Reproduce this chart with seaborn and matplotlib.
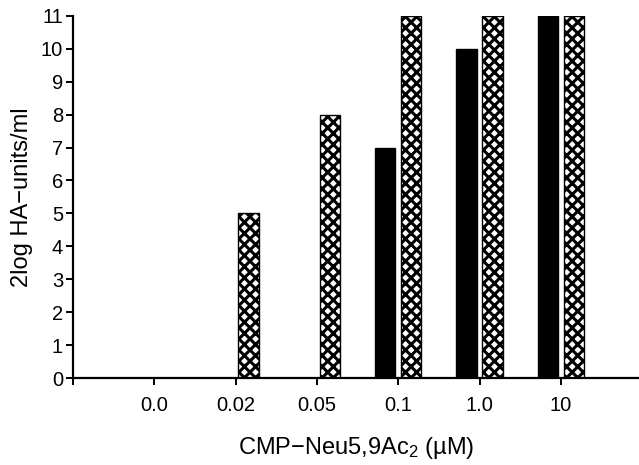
import matplotlib
matplotlib.use("Agg")
import matplotlib.pyplot as plt
import seaborn as sns
import pandas as pd

concentrations = ["0.0", "0.02", "0.05", "0.1", "1.0", "10"]
solid_series = [0, 0, 0, 7, 10, 11]
hatched_series = [0, 5, 8, 11, 11, 11]
y_ticks = list(range(0, 12))

sns.set_style("ticks")
plt.rcParams['font.family'] = ['Liberation Sans', 'DejaVu Sans']
plt.rcParams['mathtext.fontset'] = 'custom'
plt.rcParams['mathtext.rm'] = 'Liberation Sans'
plt.rcParams['mathtext.default'] = 'regular'
plt.rcParams['hatch.linewidth'] = 2.2
plt.rcParams['text.color'] = 'black'
plt.rcParams['axes.labelcolor'] = 'black'

df = pd.DataFrame({
    "conc": concentrations * 2,
    "value": solid_series + hatched_series,
    "series": ["solid"] * len(concentrations) + ["hatched"] * len(concentrations),
})

fig = plt.figure(figsize=(6.39, 4.65), dpi=100)
ax = fig.add_axes([0.114, 0.187, 0.886, 0.779])

sns.barplot(data=df, x="conc", y="value", hue="series", order=concentrations,
            hue_order=["solid", "hatched"], palette={"solid": "black", "hatched": "white"},
            width=0.64, gap=0.22, dodge=True, legend=False, ax=ax, edgecolor="black",
            linewidth=1.0)

n = len(concentrations)
for i, p in enumerate(ax.patches):
    if i >= n:
        p.set_hatch("xxx")
        p.set_facecolor("white")
        p.set_edgecolor("black")

ax.set_xlim(-1, 5.96)
ax.set_ylim(0, 11)
ax.set_xticks(range(-1, n))
ax.set_xticklabels([""] + concentrations, fontsize=14.5)
ax.set_yticks(y_ticks)
ax.set_yticklabels([str(t) for t in y_ticks], fontsize=14.5)
ax.tick_params(axis="both", direction="out", length=5, width=1.4, colors="black")
ax.tick_params(axis="x", pad=8)
ax.tick_params(axis="y", pad=2)
for s in ["top", "right"]:
    ax.spines[s].set_visible(False)
for s in ["left", "bottom"]:
    ax.spines[s].set_linewidth(1.6)
    ax.spines[s].set_color("black")

ax.set_xlabel("CMP\u2212Neu5,9Ac$_2$ (\u00b5M)", fontsize=17, labelpad=14, color="black")
ax.set_ylabel("2log HA\u2212units/ml", fontsize=17, labelpad=6, color="black")

fig.savefig("out.png", dpi=100)
